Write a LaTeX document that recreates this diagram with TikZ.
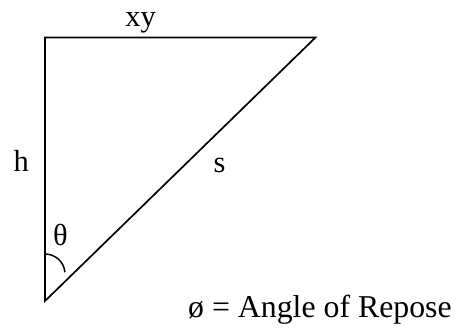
\documentclass[tikz,border=0pt]{standalone}
\usepackage{fontspec}
\setmainfont{Liberation Serif}
\begin{document}
\begin{tikzpicture}[x=1pt,y=-1pt,
  edge/.style={line width=1.7pt, line join=miter},
  lbl/.style={inner sep=0pt, anchor=base, font=\fontsize{30.5}{36}\selectfont}]
\useasboundingbox (0,0) rectangle (457,329);
\coordinate (A) at (45,37.5);
\coordinate (B) at (315.5,37.5);
\coordinate (C) at (45,301);
\draw[edge] (A) -- (B) -- (C) -- cycle;
\coordinate (arcstart) at (45,254);
\draw[line width=1.5pt] (arcstart) arc[start angle=-90, end angle=-5, radius=20];
\node[lbl] (xy) at (140.5,27) {xy};
\node[lbl] (h) at (21.3,171.7) {h};
\node[lbl] (s) at (219.5,172.3) {s};
\node[lbl] (theta) at (60.5,245) {θ};
\node[lbl, anchor=base west, font=\fontsize{31.8}{36}\selectfont] (repose) at (188,317.5) {ø = Angle of Repose};
\end{tikzpicture}
\end{document}
